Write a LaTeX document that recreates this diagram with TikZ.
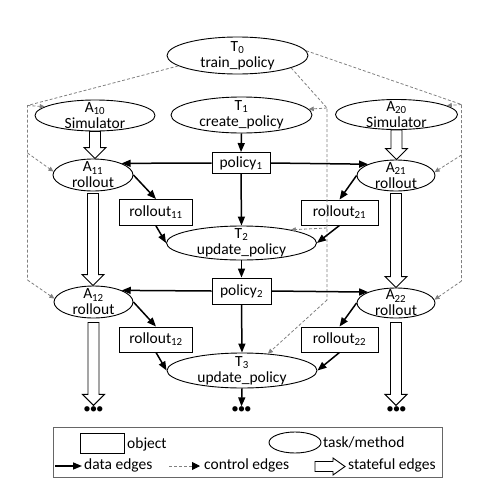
\documentclass[tikz,border=0pt]{standalone}
\usepackage{fontspec}
\setmainfont{Carlito}
\usetikzlibrary{arrows.meta,shapes.geometric,calc}
\newcommand\statefularrow[2]{%
  \draw[stateline] let \p1=(#1), \p2=(#2) in
    (\x1-5.5pt,\y1) -- (\x1-5.5pt,\y2+11pt) -- (\x1-11pt,\y2+11pt) -- (\x1,\y2)
    -- (\x1+11pt,\y2+11pt) -- (\x1+5.5pt,\y2+11pt) -- (\x1+5.5pt,\y1) -- cycle;}
\begin{document}
\begin{tikzpicture}[x=1pt,y=-1pt,
  every node/.style={font=\fontsize{15.5}{16}\selectfont, inner sep=0pt, align=center},
  task/.style={ellipse, draw, line width=0.9pt},
  lbl/.style={},
  obj/.style={rectangle, draw, line width=0.9pt},
  data/.style={line width=1.5pt, -{Triangle[length=9pt,width=7pt]}},
  ctrlline/.style={draw=black!50, dash pattern=on 3pt off 2pt, line width=0.8pt},
  ctrl/.style={ctrlline, -{Triangle[length=5pt,width=4.5pt]}},
  stateline/.style={draw, line width=0.9pt, fill=white},
  dots/.style={font=\fontsize{15}{15}\selectfont}]
\useasboundingbox (0,0) rectangle (488,488);
% tasks
\node[task, minimum width=141, minimum height=37] (t0) at (237.5,55.5) {};
\node[lbl] (t0l) at (t0.center) {T\textsubscript{0}\\train\_policy};
\node[task, minimum width=120, minimum height=31] (a10) at (95,115.5) {};
\node[lbl] (a10l) at (a10.center) {A\textsubscript{10}\\Simulator};
\node[task, minimum width=141, minimum height=36] (t1) at (241.5,115) {};
\node[lbl] (t1l) at (t1.center) {T\textsubscript{1}\\create\_policy};
\node[task, minimum width=122, minimum height=30] (a20) at (396.5,114.5) {};
\node[lbl] (a20l) at (a20.center) {A\textsubscript{20}\\Simulator};
\node[obj, minimum width=58, minimum height=21] (p1) at (241,163) {policy\textsubscript{1}};
\node[task, minimum width=80, minimum height=32] (a11) at (93,175) {};
\node[lbl] (a11l) at (a11.center) {A\textsubscript{11}\\rollout};
\node[task, minimum width=78, minimum height=31] (a21) at (396,175.5) {};
\node[lbl] (a21l) at (a21.center) {A\textsubscript{21}\\rollout};
\node[obj, minimum width=73, minimum height=26] (r11) at (156,212.5) {rollout\textsubscript{11}};
\node[obj, minimum width=77, minimum height=25] (r21) at (339.5,212.5) {rollout\textsubscript{21}};
\node[task, minimum width=150, minimum height=34] (t2) at (241.5,243) {};
\node[lbl] (t2l) at (t2.center) {T\textsubscript{2}\\update\_policy};
\node[obj, minimum width=59, minimum height=26] (p2) at (241.5,291) {policy\textsubscript{2}};
\node[task, minimum width=79, minimum height=32] (a12) at (93.5,302) {};
\node[lbl] (a12l) at (a12.center) {A\textsubscript{12}\\rollout};
\node[task, minimum width=78, minimum height=30] (a22) at (396,303) {};
\node[lbl] (a22l) at (a22.center) {A\textsubscript{22}\\rollout};
\node[obj, minimum width=73, minimum height=25] (r12) at (156,339.5) {rollout\textsubscript{12}};
\node[obj, minimum width=77, minimum height=25] (r22) at (339.5,339.5) {rollout\textsubscript{22}};
\node[task, minimum width=150, minimum height=35] (t3) at (242,370.5) {};
\node[lbl] (t3l) at (t3.center) {T\textsubscript{3}\\update\_policy};
\node[dots] (d1) at (93.5,410) {•\kern-1pt•\kern-1pt•};
\node[dots] (d2) at (241.5,410) {•\kern-1pt•\kern-1pt•};
\node[dots] (d3) at (396.5,410) {•\kern-1pt•\kern-1pt•};
% control edges
\coordinate (cl1) at (27.5,105.5);
\coordinate (cl2) at (27.5,153);
\coordinate (cl3) at (27.5,280);
\coordinate (cr1) at (461.5,104.5);
\coordinate (cr2) at (461.5,155);
\coordinate (cr3) at (461.5,281);
\coordinate (cm1) at (327,108);
\coordinate (cm2) at (327,228);
\coordinate (cm3) at (327,300);
\draw[ctrlline] (t0.190) -- (cl1) -- (cl3);
\draw[ctrl] (cl1) -- (a10.170);
\draw[ctrl] (cl2) -- (a11.175);
\draw[ctrl] (cl3) -- (a12.175);
\draw[ctrlline] (t0.4) -- (cr1) -- (cr3);
\draw[ctrl] (cr1) -- (a20.10);
\draw[ctrl] (cr2) -- (a21.5);
\draw[ctrl] (cr3) -- (a22.5);
\draw[ctrlline] (t0.-13) -- (cm1) -- (cm3);
\draw[ctrl] (cm1) -- (t1.5);
\draw[ctrl] (cm2) -- (t2.15);
\draw[ctrl] (cm3) -- (t3.33);
% data edges
\draw[data] (t1.south) -- (p1.north);
\draw[data] (p1.west) -- (a11.north east);
\draw[data] (p1.east) -- (a21.north west);
\draw[data] (p1.south) -- (t2.north);
\draw[data] (a11.east) -- (r11.north);
\draw[data] (a21.west) -- (r21.north);
\draw[data] (r11.south) -- (t2.west);
\draw[data] (r21.south) -- (t2.east);
\draw[data] (t2.south) -- (p2.north);
\draw[data] (p2.west) -- (a12.north east);
\draw[data] (p2.east) -- (a22.north west);
\draw[data] (p2.south) -- (t3.north);
\draw[data] (a12.east) -- (r12.north);
\draw[data] (a22.west) -- (r22.north);
\draw[data] (r12.south) -- (t3.west);
\draw[data] (r22.south) -- (t3.east);
\draw[data] (t3.south) -- (d2.north);
% stateful edges
\statefularrow{a10.south}{a11.north}
\statefularrow{$(a11.south)+(0,2)$}{a12.north}
\statefularrow{$(a12.south)+(0,4)$}{$(d1.north)+(0,-1)$}
\statefularrow{a20.south}{a21.north}
\statefularrow{$(a21.south)+(0,2)$}{a22.north}
\statefularrow{$(a22.south)+(0,4)$}{$(d3.north)+(0,-1)$}
% legend
\node[draw=black!60, line width=0.9pt, minimum width=389, minimum height=50] (leg) at (247.5,452.5) {};
\node[obj, minimum width=44, minimum height=20] (lobj) at (102,443) {};
\node[anchor=base west] (lobjt) at (127,448) {object};
\node[task, minimum width=52, minimum height=21] (ltask) at (295,442.5) {};
\node[anchor=base west] (ltaskt) at (323,447.5) {task/method};
\coordinate (ld1) at (55,466);
\coordinate (ld2) at (82,466);
\draw[data] (ld1) -- (ld2);
\node[anchor=base west] (ldt) at (84,469.5) {data edges};
\coordinate (lc1) at (169,466);
\coordinate (lc2) at (200,466);
\draw[ctrlline, -{Triangle[length=8pt,width=8pt,color=black]}] (lc1) -- (lc2);
\node[anchor=base west] (lct) at (204,469.5) {control edges};
\coordinate (ls1) at (315,466.5);
\coordinate (ls2) at (345,466.5);
\draw[stateline] let \p1=(ls1), \p2=(ls2) in
  (\x1,\y1+5pt) -- (\x2-12pt,\y1+5pt) -- (\x2-12pt,\y1+8.5pt) -- (\x2,\y1)
  -- (\x2-12pt,\y1-8.5pt) -- (\x2-12pt,\y1-5pt) -- (\x1,\y1-5pt) -- cycle;
\node[anchor=base west] (lst) at (348,469.5) {stateful edges};
\end{tikzpicture}
\end{document}
